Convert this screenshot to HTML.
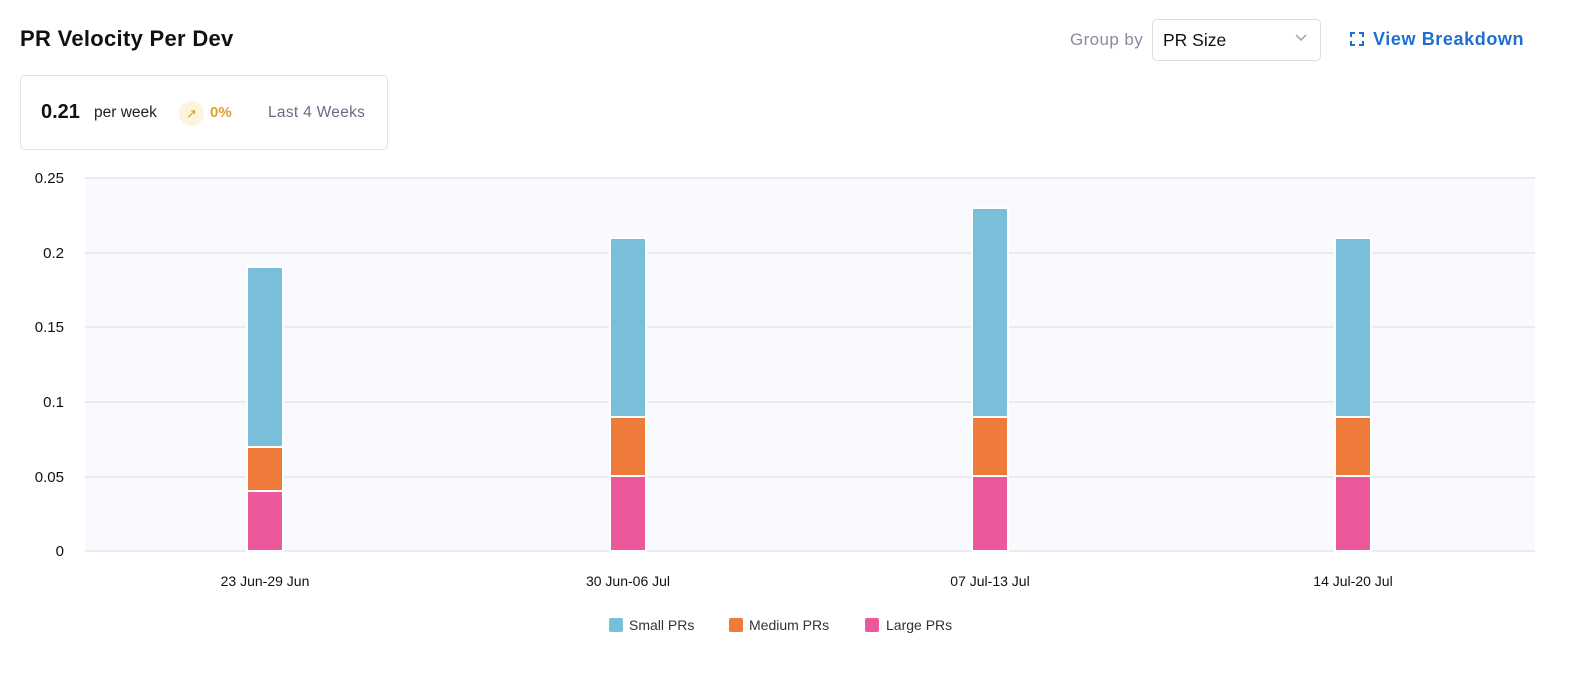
<!DOCTYPE html>
<html><head><style>
body{margin:0;width:1584px;height:683px;background:#fff;font-family:"Liberation Sans",sans-serif;position:relative;overflow:hidden}
.a{position:absolute;white-space:nowrap}
</style></head><body>
<div class="a" style="left:20px;top:26px;font-size:22px;font-weight:bold;color:#111;letter-spacing:0.3px">PR Velocity Per Dev</div>
<div class="a" style="left:20px;top:75px;width:366px;height:73px;border:1px solid #e2e2ea;border-radius:5px"></div>
<div class="a" style="left:41px;top:101px;font-size:20px;font-weight:bold;color:#111">0.21</div>
<div class="a" style="left:94px;top:104px;font-size:15.5px;color:#222">per week</div>
<div class="a" style="left:179px;top:101px;width:25px;height:25px;border-radius:50%;background:#fdf4dd;color:#d99a1c;font-size:13px;text-align:center;line-height:25px">↗</div>
<div class="a" style="left:210px;top:104px;font-size:15px;font-weight:bold;color:#e0a02a">0%</div>
<div class="a" style="left:268px;top:104px;font-size:15.5px;color:#6b6b85;letter-spacing:0.3px">Last 4 Weeks</div>
<div class="a" style="left:1070px;top:30px;font-size:17px;color:#8a8aa0;letter-spacing:0.4px">Group by</div>
<div class="a" style="left:1152px;top:19px;width:167px;height:40px;border:1px solid #dcdce4;border-radius:5px"></div>
<div class="a" style="left:1163px;top:30px;font-size:17.5px;color:#111">PR Size</div>
<svg class="a" style="left:1294px;top:33px" width="14" height="10"><path d="M2 2l5 5 5-5" stroke="#aaa" stroke-width="1.6" fill="none"/></svg>
<svg class="a" style="left:1350px;top:32px" width="14" height="14"><path d="M1 5V1h4M9 1h4v4M13 9v4H9M5 13H1V9" stroke="#1f6fd0" stroke-width="2" fill="none"/></svg>
<div class="a" style="left:1373px;top:29px;font-size:18px;font-weight:bold;color:#1f6fd0;letter-spacing:0.6px">View Breakdown</div>
<svg class="a" style="left:0;top:0" width="1584" height="683">
<rect x="85" y="178" width="1450" height="373" fill="#f9fafd"/>
<g stroke="#e6e6ec" stroke-width="1.5">
<line x1="85" x2="1535" y1="178" y2="178"/><line x1="85" x2="1535" y1="253" y2="253"/><line x1="85" x2="1535" y1="327" y2="327"/><line x1="85" x2="1535" y1="402" y2="402"/><line x1="85" x2="1535" y1="477" y2="477"/><line x1="85" x2="1535" y1="551" y2="551"/>
</g>
<g font-size="15" fill="#111" text-anchor="end">
<text x="64" y="183">0.25</text><text x="64" y="258">0.2</text><text x="64" y="332">0.15</text><text x="64" y="407">0.1</text><text x="64" y="482">0.05</text><text x="64" y="556">0</text>
</g>
<g stroke="#fff" stroke-width="2">
<rect x="247" y="491" width="36" height="60" fill="#ec589c"/><rect x="247" y="447" width="36" height="44" fill="#ef7b3b"/><rect x="247" y="267" width="36" height="180" fill="#7abfda" rx="2"/>
<rect x="610" y="476" width="36" height="75" fill="#ec589c"/><rect x="610" y="417" width="36" height="59" fill="#ef7b3b"/><rect x="610" y="238" width="36" height="179" fill="#7abfda" rx="2"/>
<rect x="972" y="476" width="36" height="75" fill="#ec589c"/><rect x="972" y="417" width="36" height="59" fill="#ef7b3b"/><rect x="972" y="208" width="36" height="209" fill="#7abfda" rx="2"/>
<rect x="1335" y="476" width="36" height="75" fill="#ec589c"/><rect x="1335" y="417" width="36" height="59" fill="#ef7b3b"/><rect x="1335" y="238" width="36" height="179" fill="#7abfda" rx="2"/>
</g>
<g font-size="14" fill="#111" text-anchor="middle">
<text x="265" y="586">23 Jun-29 Jun</text><text x="628" y="586">30 Jun-06 Jul</text><text x="990" y="586">07 Jul-13 Jul</text><text x="1353" y="586">14 Jul-20 Jul</text>
</g>
<rect x="609" y="618" width="14" height="14" rx="2" fill="#7abfda"/><text x="629" y="630" font-size="14" fill="#333">Small PRs</text>
<rect x="729" y="618" width="14" height="14" rx="2" fill="#ef7b3b"/><text x="749" y="630" font-size="14" fill="#333">Medium PRs</text>
<rect x="865" y="618" width="14" height="14" rx="2" fill="#ec589c"/><text x="886" y="630" font-size="14" fill="#333">Large PRs</text>
</svg>
</body></html>
